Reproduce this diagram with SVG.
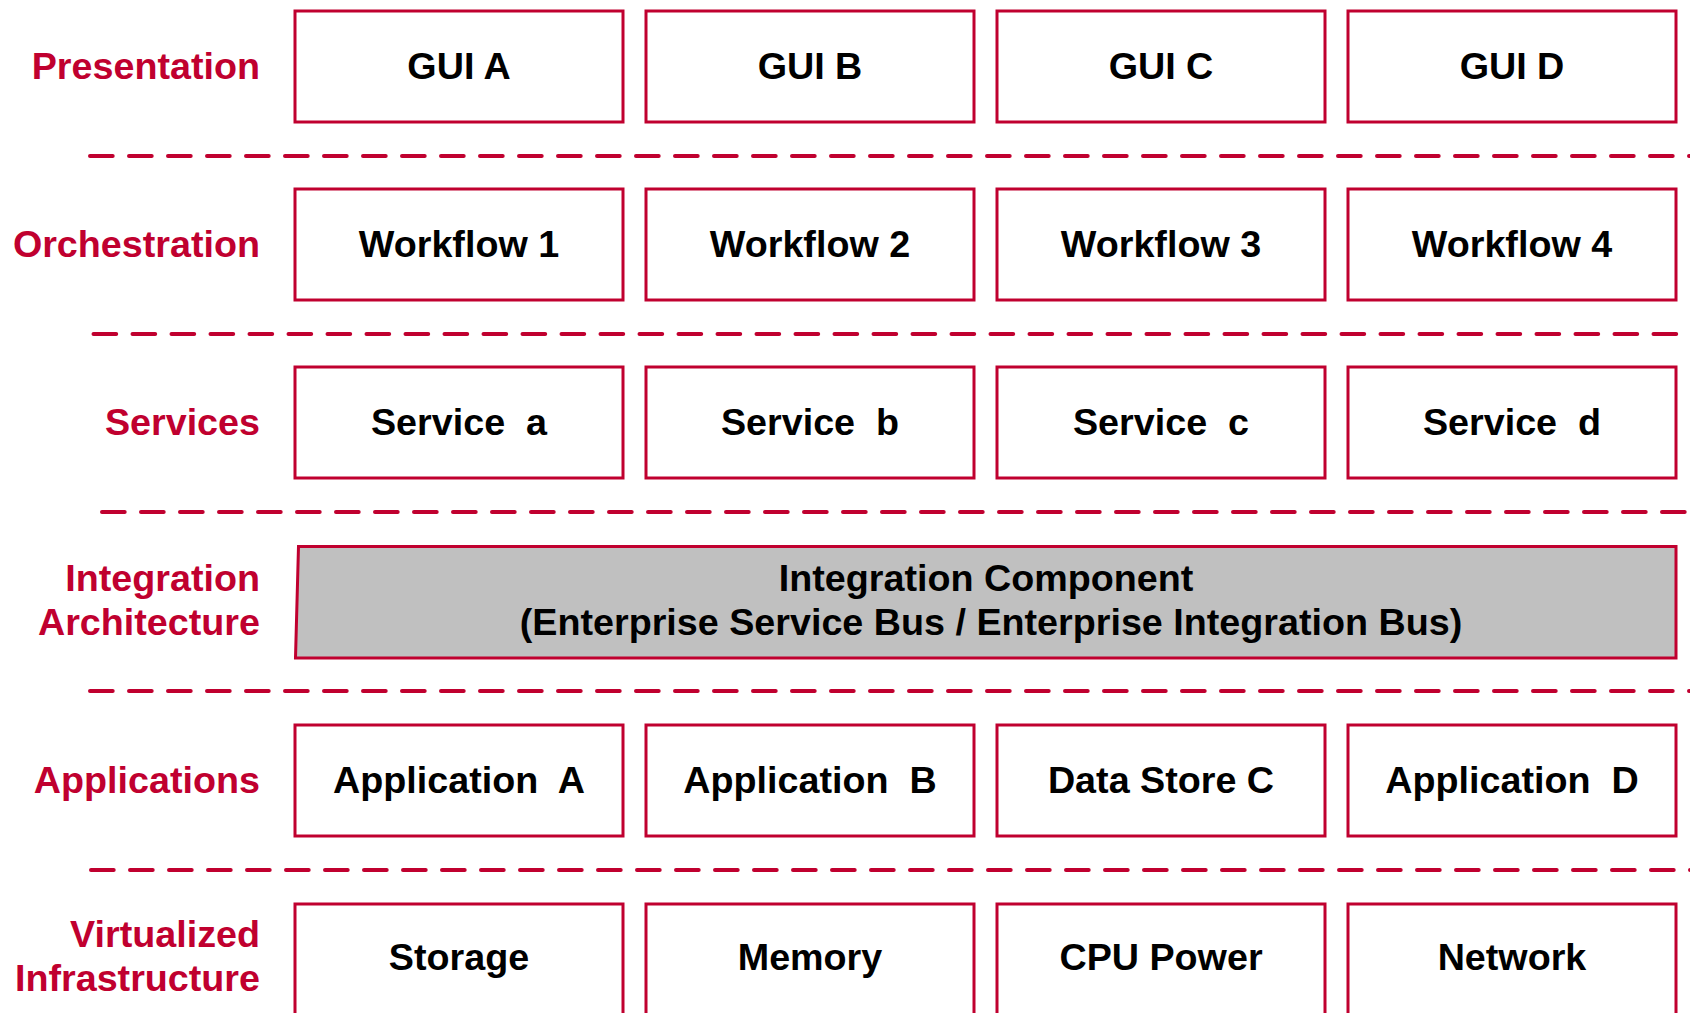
<svg xmlns="http://www.w3.org/2000/svg" width="1690" height="1013" viewBox="0 0 1690 1013">
  <style>
    .box { fill: #ffffff; stroke: #C0002F; stroke-width: 3; }
    .bus { fill: #C0C0C0; stroke: #C0002F; stroke-width: 3; stroke-linejoin: miter; }
    .t { font-family: "Liberation Sans", Arial, sans-serif; font-weight: bold; font-size: 37.7px; fill: #000000; text-anchor: middle; white-space: pre; }
    .lbl { font-family: "Liberation Sans", Arial, sans-serif; font-weight: bold; font-size: 37.7px; fill: #C0002F; text-anchor: end; }
    .sep { fill: none; stroke: #C0002F; stroke-width: 4; stroke-linecap: round; stroke-dasharray: 22.7 16.3; }
  </style>

  <!-- layer names on the left -->
  <g id="layer-labels">
    <text class="lbl" x="260" y="78.5">Presentation</text>
    <text class="lbl" x="260" y="256.5">Orchestration</text>
    <text class="lbl" x="260" y="434.5">Services</text>
    <text class="lbl" x="260" y="591">Integration</text>
    <text class="lbl" x="260" y="635">Architecture</text>
    <text class="lbl" x="260" y="792.5">Applications</text>
    <text class="lbl" x="260" y="947">Virtualized</text>
    <text class="lbl" x="260" y="991">Infrastructure</text>
  </g>

  <!-- dashed separators between layers -->
  <g id="separators">
    <line class="sep" x1="90" y1="156" x2="1700" y2="156"/>
    <line class="sep" x1="93.5" y1="334" x2="1700" y2="334"/>
    <line class="sep" x1="102" y1="512" x2="1700" y2="512"/>
    <line class="sep" x1="90" y1="691" x2="1700" y2="691"/>
    <line class="sep" x1="91" y1="870" x2="1700" y2="870"/>
  </g>

  <!-- presentation layer -->
  <g id="gui-a"><rect class="box" x="295" y="11" width="328" height="111"/><text class="t" x="459" y="78.5">GUI A</text></g>
  <g id="gui-b"><rect class="box" x="646" y="11" width="328" height="111"/><text class="t" x="810" y="78.5">GUI B</text></g>
  <g id="gui-c"><rect class="box" x="997" y="11" width="328" height="111"/><text class="t" x="1161" y="78.5">GUI C</text></g>
  <g id="gui-d"><rect class="box" x="1348" y="11" width="328" height="111"/><text class="t" x="1512" y="78.5">GUI D</text></g>

  <!-- orchestration layer -->
  <g id="workflow-1"><rect class="box" x="295" y="189" width="328" height="111"/><text class="t" x="459" y="256.5">Workflow 1</text></g>
  <g id="workflow-2"><rect class="box" x="646" y="189" width="328" height="111"/><text class="t" x="810" y="256.5">Workflow 2</text></g>
  <g id="workflow-3"><rect class="box" x="997" y="189" width="328" height="111"/><text class="t" x="1161" y="256.5">Workflow 3</text></g>
  <g id="workflow-4"><rect class="box" x="1348" y="189" width="328" height="111"/><text class="t" x="1512" y="256.5">Workflow 4</text></g>

  <!-- services layer -->
  <g id="service-a"><rect class="box" x="295" y="367" width="328" height="111"/><text class="t" x="459" y="434.5" xml:space="preserve">Service  a</text></g>
  <g id="service-b"><rect class="box" x="646" y="367" width="328" height="111"/><text class="t" x="810" y="434.5" xml:space="preserve">Service  b</text></g>
  <g id="service-c"><rect class="box" x="997" y="367" width="328" height="111"/><text class="t" x="1161" y="434.5" xml:space="preserve">Service  c</text></g>
  <g id="service-d"><rect class="box" x="1348" y="367" width="328" height="111"/><text class="t" x="1512" y="434.5" xml:space="preserve">Service  d</text></g>

  <!-- integration bus -->
  <g id="integration-component">
    <path class="bus" d="M298.5 546.5 L1676 546.5 L1676 658 L295.5 658 Z"/>
    <text class="t" x="986" y="591">Integration Component</text>
    <text class="t" x="991" y="635">(Enterprise Service Bus / Enterprise Integration Bus)</text>
  </g>

  <!-- applications layer -->
  <g id="application-a"><rect class="box" x="295" y="725" width="328" height="111"/><text class="t" x="459" y="792.5" xml:space="preserve">Application  A</text></g>
  <g id="application-b"><rect class="box" x="646" y="725" width="328" height="111"/><text class="t" x="810" y="792.5" xml:space="preserve">Application  B</text></g>
  <g id="data-store-c"><rect class="box" x="997" y="725" width="328" height="111"/><text class="t" x="1161" y="792.5">Data Store C</text></g>
  <g id="application-d"><rect class="box" x="1348" y="725" width="328" height="111"/><text class="t" x="1512" y="792.5" xml:space="preserve">Application  D</text></g>

  <!-- virtualized infrastructure layer -->
  <g id="storage"><rect class="box" x="295" y="904" width="328" height="111"/><text class="t" x="459" y="970">Storage</text></g>
  <g id="memory"><rect class="box" x="646" y="904" width="328" height="111"/><text class="t" x="810" y="970">Memory</text></g>
  <g id="cpu-power"><rect class="box" x="997" y="904" width="328" height="111"/><text class="t" x="1161" y="970">CPU Power</text></g>
  <g id="network"><rect class="box" x="1348" y="904" width="328" height="111"/><text class="t" x="1512" y="970">Network</text></g>
</svg>
